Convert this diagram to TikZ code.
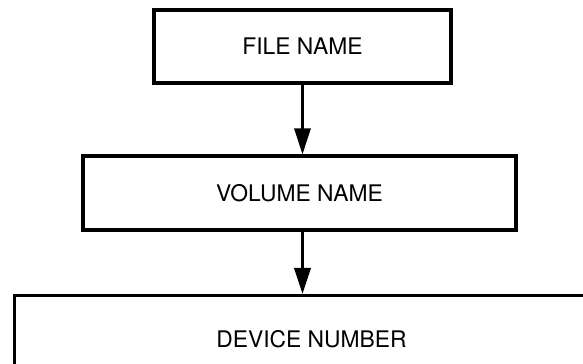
\documentclass[tikz,border=0pt]{standalone}
\usepackage{fontspec}
\setmainfont{TeX Gyre Heros}
\usetikzlibrary{arrows.meta}
\tikzset{blk/.style = {draw, line width = 1.8pt, inner sep = 0, font = \fontsize{13}{15}\selectfont}}
\tikzset{flow/.style = {line width = 2pt, -{Triangle[length = 5.2mm, width = 3.2mm]}}}

\begin{document}
\begin{tikzpicture}[x = 0.02cm, y = -0.02cm]
      \useasboundingbox (0, 0) rectangle (583, 364);
      \clip (0, 0) rectangle (583, 364);
      \node [blk, minimum width = 5.94cm, minimum height = 1.46cm] (file) at (302.5, 46.5) {FILE NAME};
      \node [blk, minimum width = 8.66cm, minimum height = 1.48cm] (volume) at (299.5, 193) {VOLUME NAME};
      % last box runs off the right and bottom edges
      \node [blk, minimum width = 11.88cm, minimum height = 1.76cm, anchor = north west] (device) at (13, 294) {DEVICE NUMBER};
      \draw [flow] (file.south) -- (file.south |- volume.north);
      \draw [flow] (volume.south -| file.south) -- (device.north -| file.south);
\end{tikzpicture}
\end{document}
